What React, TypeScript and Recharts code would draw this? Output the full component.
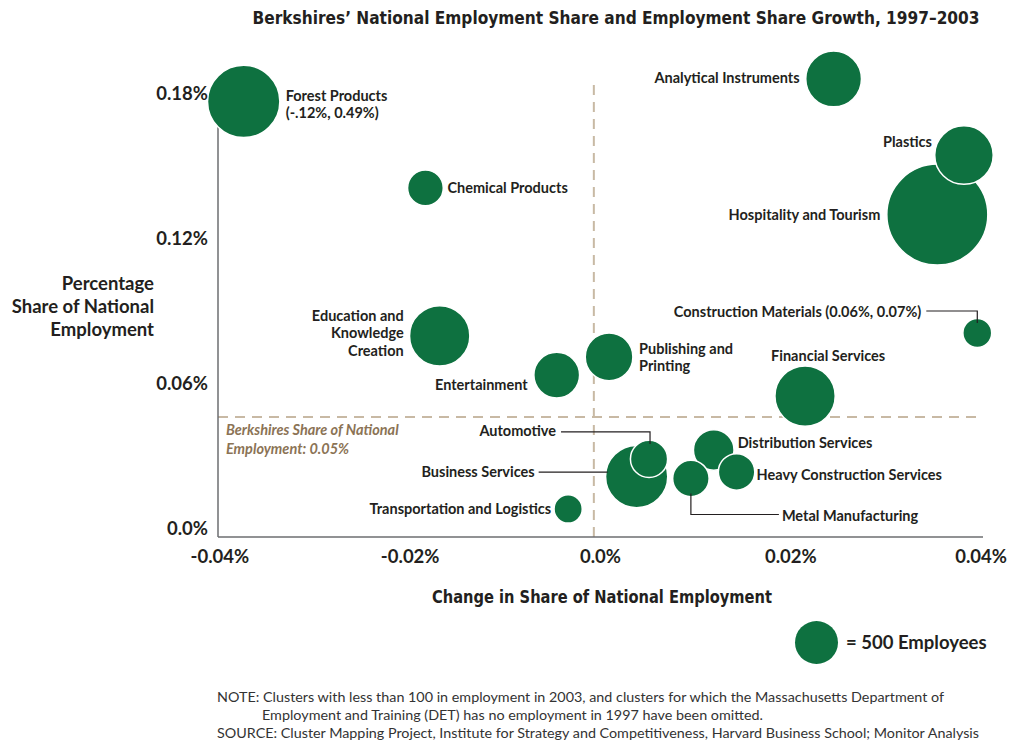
import React from 'react'
import {
  ScatterChart,
  Scatter,
  XAxis,
  YAxis,
  ZAxis,
  ReferenceLine,
} from 'recharts'

const GREEN = '#0e7140'
const TAN = '#c8b9a4'
const INK = '#231f20'
const AXIS = '#6d6e71'
const NOTE_BROWN = '#8b7355'
const SANS = 'Lato, "Open Sans", sans-serif'
const NARROW = '"Liberation Sans Narrow", "DejaVu Sans Condensed", Lato, sans-serif'

// clusters, drawn in this order (small bubbles on top of the big ones)
const CLUSTERS = [
  'Hospitality and Tourism',
  'Plastics',
  'Analytical Instruments',
  'Forest Products',
  'Chemical Products',
  'Construction Materials',
  'Education and Knowledge Creation',
  'Publishing and Printing',
  'Entertainment',
  'Financial Services',
  'Business Services',
  'Automotive',
  'Distribution Services',
  'Heavy Construction Services',
  'Metal Manufacturing',
  'Transportation and Logistics',
]
// change in share of national employment (%), 1997-2003
const SHARE_CHANGE = [
  0.0354, 0.0382, 0.0245, -0.0375, -0.0184, 0.0396, -0.0169, 0.0009,
  -0.0046, 0.0215, 0.0038, 0.0051, 0.0119, 0.0143, 0.0095, -0.0034,
]
// share of national employment (%), 2003
const NATIONAL_SHARE = [
  0.1297, 0.1543, 0.1858, 0.1765, 0.1407, 0.0807, 0.0795, 0.0708,
  0.0633, 0.0546, 0.0213, 0.0286, 0.0323, 0.0232, 0.0205, 0.0079,
]
// employment (bubble size)
const EMPLOYMENT = [
  2760, 850, 760, 1360, 245, 120, 910, 525,
  475, 910, 975, 275, 350, 260, 260, 110,
]

const X_TICKS = [-0.04, -0.02, 0, 0.02, 0.04]
const Y_TICKS = [0, 0.06, 0.12, 0.18]
const REGION_SHARE = 0.0459 // drawn line, labelled 0.05%
const ZERO_LINE = -0.0007 // quadrant divider as drawn
const LEGEND_EMP = 500

const X_DOMAIN = [-0.0402, 0.0402]
const Y_DOMAIN = [-0.0037, 0.1862]
// bubble area (px^2) per employee; z axis spans data min..max, so the
// range is set to keep area proportional to employment
const AREA_PER_EMP = 2.904
const Z_RANGE = [
  AREA_PER_EMP * Math.min(...EMPLOYMENT),
  AREA_PER_EMP * Math.max(...EMPLOYMENT),
]

const data = CLUSTERS.map((name, i) => ({
  name,
  x: SHARE_CHANGE[i],
  y: NATIONAL_SHARE[i],
  emp: EMPLOYMENT[i],
}))

// label placement relative to bubble centre (px)
type Lay = { lines: string[]; anchor: 'start' | 'end'; dx: number; dy: number[]; link?: number[][] }
const LAYOUT: Record<string, Lay> = {
  'Forest Products': { lines: ['Forest Products', '(-.12%, 0.49%)'], anchor: 'start', dx: 42, dy: [-6, 11] },
  'Analytical Instruments': { lines: ['Analytical Instruments'], anchor: 'end', dx: -34, dy: [-1] },
  Plastics: { lines: ['Plastics'], anchor: 'end', dx: -32, dy: [-14] },
  'Hospitality and Tourism': { lines: ['Hospitality and Tourism'], anchor: 'end', dx: -57, dy: [0] },
  'Chemical Products': { lines: ['Chemical Products'], anchor: 'start', dx: 22, dy: [0] },
  'Construction Materials': {
    lines: ['Construction Materials (0.06%, 0.07%)'],
    anchor: 'end', dx: -56, dy: [-22],
    link: [[-51, -22], [0, -22], [0, -10]],
  },
  'Education and Knowledge Creation': {
    lines: ['Education and', 'Knowledge', 'Creation'], anchor: 'end', dx: -36, dy: [-20, -3, 15],
  },
  'Publishing and Printing': { lines: ['Publishing and', 'Printing'], anchor: 'start', dx: 30, dy: [-8, 9] },
  Entertainment: { lines: ['Entertainment'], anchor: 'end', dx: -29, dy: [9] },
  'Financial Services': { lines: ['Financial Services'], anchor: 'start', dx: -34, dy: [-41] },
  Automotive: {
    lines: ['Automotive'], anchor: 'end', dx: -93, dy: [-28],
    link: [[-88, -27], [1, -27], [1, -15]],
  },
  'Business Services': {
    lines: ['Business Services'], anchor: 'end', dx: -102, dy: [-5],
    link: [[-98, -4.5], [-29, -4.5]],
  },
  'Distribution Services': { lines: ['Distribution Services'], anchor: 'start', dx: 24, dy: [-7] },
  'Heavy Construction Services': { lines: ['Heavy Construction Services'], anchor: 'start', dx: 20, dy: [3] },
  'Metal Manufacturing': {
    lines: ['Metal Manufacturing'], anchor: 'start', dx: 91, dy: [36.5],
    link: [[0, 15], [0, 36], [88, 36]],
  },
  'Transportation and Logistics': { lines: ['Transportation and Logistics'], anchor: 'end', dx: -17, dy: [0] },
}

function Bubble(props: any) {
  const { cx, cy, payload } = props
  const r = props.width ? props.width / 2 : Math.sqrt((props.size || 0) / Math.PI)
  const lay = LAYOUT[payload.name]
  return (
    <g>
      <circle cx={cx} cy={cy} r={r} fill={GREEN} stroke="#fff" strokeWidth={1.5} />
      {lay && lay.link && (
        <polyline
          points={lay.link.map((p) => `${cx + p[0]},${cy + p[1]}`).join(' ')}
          fill="none"
          stroke={INK}
          strokeWidth={1.2}
        />
      )}
      {lay &&
        lay.lines.map((t, i) => (
          <text
            key={i}
            x={cx + lay.dx}
            y={cy + lay.dy[i]}
            textAnchor={lay.anchor}
            dominantBaseline="central"
            fontFamily={SANS}
            fontWeight={700}
            fontSize={14.5}
            fill={INK}
          >
            {t}
          </text>
        ))}
    </g>
  )
}

const fmtX = (v: number) => (v === 0 ? '0.0%' : `${v.toFixed(2)}%`)
const fmtY = (v: number) => (v === 0 ? '0.0%' : `${v.toFixed(2)}%`)

export default function App() {
  const legendR = Math.sqrt((LEGEND_EMP * AREA_PER_EMP) / Math.PI)
  const tickStyle = { fontFamily: SANS, fontSize: 18.5, fill: INK, fontWeight: 700 }
  return (
    <div style={{ position: 'absolute', left: 0, top: 0, width: 1011, height: 746, background: '#fff' }}>
      <ScatterChart width={1011} height={746} margin={{ top: 78, right: 28, bottom: 169, left: 158 }}>
        <XAxis
          type="number"
          dataKey="x"
          domain={X_DOMAIN}
          ticks={X_TICKS}
          tickFormatter={fmtX}
          height={40}
          tickSize={0}
          tickMargin={13}
          tick={tickStyle}
          axisLine={{ stroke: AXIS, strokeWidth: 1.5 }}
        />
        <YAxis
          type="number"
          dataKey="y"
          domain={Y_DOMAIN}
          ticks={Y_TICKS}
          tickFormatter={fmtY}
          width={60}
          tickSize={0}
          tickMargin={10}
          tick={tickStyle}
          axisLine={{ stroke: AXIS, strokeWidth: 1.5 }}
        />
        <ZAxis type="number" dataKey="emp" range={Z_RANGE} />
        <ReferenceLine
          segment={[{ x: ZERO_LINE, y: Y_DOMAIN[0] }, { x: ZERO_LINE, y: 0.1841 }]}
          stroke={TAN}
          strokeWidth={2}
          strokeDasharray="10 7"
        />
        <ReferenceLine
          segment={[{ x: X_DOMAIN[0], y: REGION_SHARE }, { x: 0.0398, y: REGION_SHARE }]}
          stroke={TAN}
          strokeWidth={2}
          strokeDasharray="10 7"
        />
        <Scatter data={data} shape={<Bubble />} isAnimationActive={false} />
      </ScatterChart>

      <svg
        width={1011}
        height={746}
        style={{ position: 'absolute', left: 0, top: 0, pointerEvents: 'none' }}
      >
        <text x={616} y={18} textAnchor="middle" dominantBaseline="central" fontFamily={NARROW}
          fontWeight={700} fontSize={17} fill={INK} textLength={727} lengthAdjust="spacingAndGlyphs">
          Berkshires’ National Employment Share and Employment Share Growth, 1997–2003
        </text>
        <text x={602} y={596} textAnchor="middle" dominantBaseline="central" fontFamily={NARROW}
          fontWeight={700} fontSize={18} fill={INK} textLength={340} lengthAdjust="spacingAndGlyphs">
          Change in Share of National Employment
        </text>
        {['Percentage', 'Share of National', 'Employment'].map((t, i) => (
          <text key={t} x={154} y={283 + i * 23} textAnchor="end" dominantBaseline="central"
            fontFamily={SANS} fontWeight={700} fontSize={18.5} fill={INK}>
            {t}
          </text>
        ))}
        <text x={226} y={429} dominantBaseline="central" fontFamily={SANS} fontStyle="italic"
          fontWeight={700} fontSize={14.5} fill={NOTE_BROWN}>
          Berkshires Share of National
        </text>
        <text x={226} y={448} dominantBaseline="central" fontFamily={SANS} fontStyle="italic"
          fontWeight={700} fontSize={14.5} fill={NOTE_BROWN}>
          Employment: 0.05%
        </text>
        <circle cx={816.5} cy={642.5} r={legendR} fill={GREEN} />
        <text x={846} y={642} dominantBaseline="central" fontFamily={SANS} fontWeight={700}
          fontSize={18.5} fill={INK}>
          = 500 Employees
        </text>
        <text x={217} y={697} dominantBaseline="central" fontFamily={SANS} fontSize={13} fill="#333"
          textLength={727} lengthAdjust="spacingAndGlyphs">
          NOTE: Clusters with less than 100 in employment in 2003, and clusters for which the Massachusetts Department of
        </text>
        <text x={262} y={715} dominantBaseline="central" fontFamily={SANS} fontSize={13} fill="#333"
          textLength={501} lengthAdjust="spacingAndGlyphs">
          Employment and Training (DET) has no employment in 1997 have been omitted.
        </text>
        <text x={217} y={733} dominantBaseline="central" fontFamily={SANS} fontSize={13} fill="#333"
          textLength={762} lengthAdjust="spacingAndGlyphs">
          SOURCE: Cluster Mapping Project, Institute for Strategy and Competitiveness, Harvard Business School; Monitor Analysis
        </text>
      </svg>
    </div>
  )
}
